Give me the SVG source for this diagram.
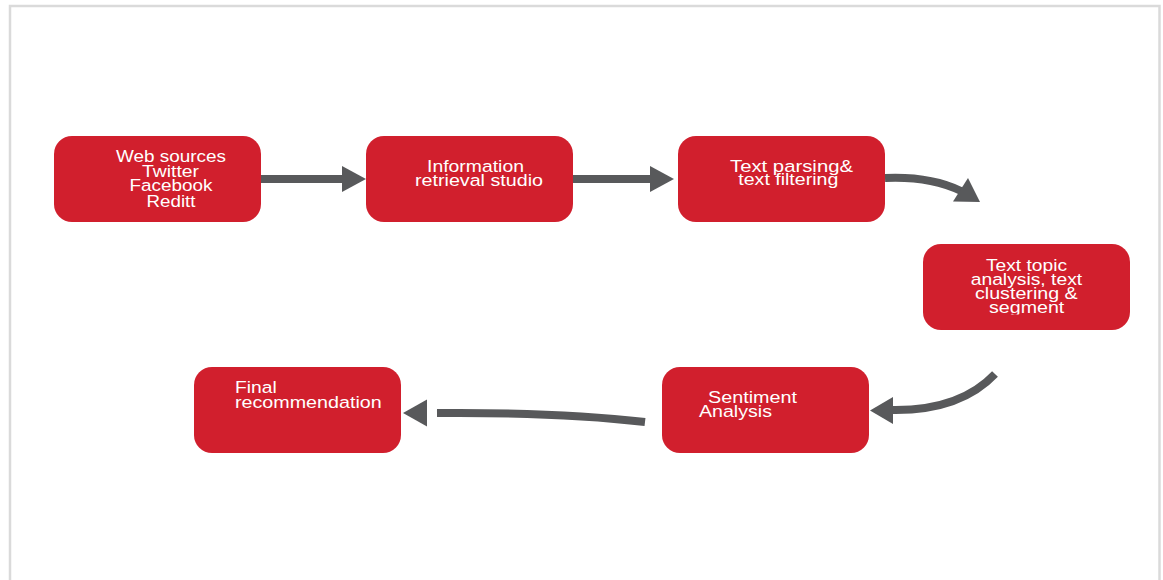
<svg xmlns="http://www.w3.org/2000/svg" width="1163" height="580" viewBox="0 0 1163 580">
<defs>
<style>
.box{fill:#D11F2D;}
.t{font-family:"Liberation Sans",Arial,sans-serif;font-size:16.3px;fill:#FFFFFF;}
.ln{fill:none;stroke:#58595B;stroke-width:8;}
.hd{fill:#58595B;}
</style>
<clipPath id="clipSeg"><rect x="900" y="240" width="240" height="74.6"/></clipPath>
</defs>
<rect x="0" y="0" width="1163" height="580" fill="#FFFFFF"/>
<rect x="10" y="6" width="1149.5" height="620" fill="none" stroke="#DADADA" stroke-width="2.5"/>

<g id="connectors">
<path class="ln" d="M261,179 L343,179"/>
<polygon class="hd" points="342,166 366,179 342,192"/>
<path class="ln" d="M573,179 L651,179"/>
<polygon class="hd" points="650,166 674,179 650,192"/>
<path class="ln" d="M885,178 Q930,176 961,191"/>
<polygon class="hd" points="953,201.5 968,178 980,202"/>
<path class="ln" d="M995,374 Q960,411 892,410"/>
<polygon class="hd" points="870,410.5 893,397 893,424"/>
<path class="ln" d="M645,422 Q560,412 437,413"/>
<polygon class="hd" points="403,413 427,399.5 427,426.5"/>
</g>

<g id="node-web">
<rect class="box" x="54" y="136" width="207" height="86" rx="18"/>
<text class="t" x="116" y="162.3" textLength="110" lengthAdjust="spacingAndGlyphs">Web sources</text>
<text class="t" x="142" y="176.8" textLength="57" lengthAdjust="spacingAndGlyphs">Twitter</text>
<text class="t" x="129.5" y="191.2" textLength="83" lengthAdjust="spacingAndGlyphs">Facebook</text>
<text class="t" x="146.5" y="206.7" textLength="49" lengthAdjust="spacingAndGlyphs">Reditt</text>
</g>

<g id="node-info">
<rect class="box" x="366" y="136" width="207" height="86" rx="18"/>
<text class="t" x="427" y="172" textLength="97" lengthAdjust="spacingAndGlyphs">Information</text>
<text class="t" x="415" y="186" textLength="128" lengthAdjust="spacingAndGlyphs">retrieval studio</text>
</g>

<g id="node-parse">
<rect class="box" x="678" y="136" width="207" height="86" rx="18"/>
<text class="t" x="730" y="171.7" textLength="123" lengthAdjust="spacingAndGlyphs">Text parsing&amp;</text>
<text class="t" x="738.3" y="185" textLength="100" lengthAdjust="spacingAndGlyphs">text  filtering</text>
</g>

<g id="node-topic">
<rect class="box" x="923" y="244" width="207" height="86" rx="18"/>
<text class="t" x="986" y="270.5" textLength="81" lengthAdjust="spacingAndGlyphs">Text topic</text>
<text class="t" x="970.7" y="285" textLength="111.5" lengthAdjust="spacingAndGlyphs">analysis, text</text>
<text class="t" x="975" y="298.5" textLength="102.7" lengthAdjust="spacingAndGlyphs">clustering &amp;</text>
<text class="t" x="989" y="312.7" textLength="75.3" lengthAdjust="spacingAndGlyphs" clip-path="url(#clipSeg)">segment</text>
</g>

<g id="node-sentiment">
<rect class="box" x="662" y="367" width="207" height="86" rx="18"/>
<text class="t" x="708" y="402.5" textLength="89" lengthAdjust="spacingAndGlyphs">Sentiment</text>
<text class="t" x="699" y="417" textLength="73" lengthAdjust="spacingAndGlyphs">Analysis</text>
</g>

<g id="node-final">
<rect class="box" x="194" y="367" width="207" height="86" rx="18"/>
<text class="t" x="235" y="393.3" textLength="41.7" lengthAdjust="spacingAndGlyphs">Final</text>
<text class="t" x="235" y="407.7" textLength="146.7" lengthAdjust="spacingAndGlyphs">recommendation</text>
</g>
</svg>
